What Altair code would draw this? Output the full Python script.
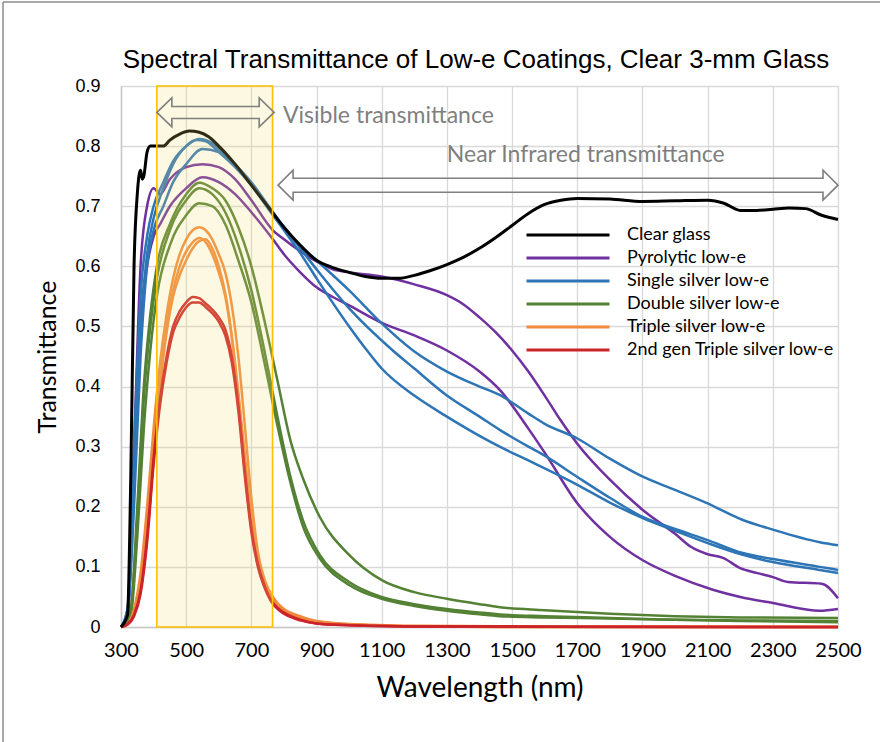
import altair as alt
import pandas as pd

TITLE = "Spectral Transmittance of Low-e Coatings, Clear 3-mm Glass"
X_TITLE = "Wavelength (nm)"
Y_TITLE = "Transmittance"
CATEGORIES = ["Clear glass", "Pyrolytic low-e", "Single silver low-e",
              "Double silver low-e", "Triple silver low-e", "2nd gen Triple silver low-e"]
COLORS = ["#000000", "#7030A0", "#2E75B6", "#548235", "#F08A3C", "#CC2229"]
X_TICKS = [300, 500, 700, 900, 1100, 1300, 1500, 1700, 1900, 2100, 2300, 2500]
Y_TICKS = [0.0, 0.1, 0.2, 0.3, 0.4, 0.5, 0.6, 0.7, 0.8, 0.9]

# ---- Clear glass ----
CLEAR_WL = [300, 320, 330, 340, 350, 360, 365, 370, 380, 390, 410, 430, 450, 480, 510, 540, 570, 600, 650, 700,
            750, 800, 850, 900, 950, 1000, 1050, 1100, 1150, 1200, 1250, 1300, 1350, 1400, 1450, 1500, 1550, 1600,
            1650, 1700, 1800, 1900, 2000, 2100, 2150, 2200, 2250, 2300, 2350, 2400, 2450, 2500]
CLEAR_T = [0.0, 0.02, 0.25, 0.60, 0.72, 0.76, 0.745, 0.75, 0.79, 0.80, 0.80, 0.80, 0.81, 0.82, 0.825, 0.823, 0.815,
           0.80, 0.77, 0.735, 0.70, 0.665, 0.635, 0.61, 0.598, 0.59, 0.583, 0.58, 0.58, 0.585, 0.593, 0.603, 0.615,
           0.63, 0.648, 0.668, 0.688, 0.703, 0.71, 0.713, 0.712, 0.708, 0.709, 0.71, 0.705, 0.693, 0.693, 0.695,
           0.697, 0.696, 0.685, 0.678]

# ---- Pyrolytic low-e ----
PYRO1_WL = [300, 320, 340, 360, 380, 400, 420, 450, 500, 550, 600, 650, 700, 766, 800, 850, 900, 950, 1000, 1100,
            1200, 1300, 1350, 1400, 1450, 1500, 1550, 1600, 1650, 1700, 1800, 1900, 2000, 2050, 2100, 2147, 2200,
            2250, 2300, 2346, 2450, 2500]
PYRO1_T = [0.0, 0.02, 0.30, 0.60, 0.70, 0.73, 0.72, 0.745, 0.765, 0.77, 0.765, 0.745, 0.71, 0.66, 0.645, 0.625,
           0.608, 0.595, 0.59, 0.583, 0.57, 0.552, 0.537, 0.515, 0.49, 0.46, 0.425, 0.385, 0.343, 0.305, 0.245,
           0.195, 0.155, 0.133, 0.121, 0.115, 0.098, 0.09, 0.083, 0.075, 0.072, 0.048]
PYRO2_WL = [300, 320, 340, 360, 380, 400, 420, 450, 500, 550, 600, 650, 700, 766, 800, 850, 900, 950, 1000, 1104,
            1200, 1300, 1400, 1463, 1550, 1600, 1700, 1800, 1901, 2000, 2116, 2200, 2300, 2444, 2500]
PYRO2_T = [0.0, 0.02, 0.25, 0.50, 0.60, 0.65, 0.67, 0.70, 0.73, 0.748, 0.74, 0.72, 0.69, 0.645, 0.62, 0.59, 0.565,
           0.549, 0.535, 0.505, 0.485, 0.46, 0.425, 0.394, 0.33, 0.29, 0.206, 0.15, 0.111, 0.085, 0.062, 0.05,
           0.04, 0.027, 0.03]

# ---- Single silver low-e ----
SS1_WL = [300, 320, 340, 360, 380, 400, 430, 460, 500, 530, 560, 600, 650, 700, 766, 800, 850, 900, 1000, 1100,
          1196, 1300, 1400, 1462, 1550, 1600, 1699, 1800, 1901, 2000, 2098, 2208, 2300, 2444, 2500]
SS1_T = [0.0, 0.03, 0.25, 0.50, 0.62, 0.68, 0.73, 0.77, 0.80, 0.81, 0.808, 0.79, 0.765, 0.735, 0.69, 0.665, 0.635,
         0.61, 0.56, 0.505, 0.46, 0.425, 0.40, 0.386, 0.355, 0.338, 0.314, 0.28, 0.25, 0.228, 0.206, 0.178, 0.162,
         0.141, 0.136]
SS2_WL = [300, 320, 340, 360, 380, 400, 430, 460, 500, 540, 580, 620, 700, 766, 800, 850, 900, 1000, 1134, 1200,
          1300, 1400, 1462, 1550, 1600, 1699, 1800, 1901, 2000, 2098, 2208, 2300, 2444, 2500]
SS2_T = [0.0, 0.03, 0.30, 0.55, 0.65, 0.70, 0.74, 0.775, 0.80, 0.812, 0.805, 0.785, 0.74, 0.69, 0.665, 0.63, 0.595,
         0.53, 0.46, 0.43, 0.385, 0.35, 0.328, 0.30, 0.285, 0.25, 0.215, 0.183, 0.163, 0.145, 0.123, 0.113, 0.10,
         0.095]
SS3_WL = [300, 320, 340, 360, 380, 400, 430, 460, 500, 550, 600, 650, 700, 766, 800, 850, 900, 1000, 1055, 1100,
          1200, 1300, 1400, 1462, 1550, 1600, 1699, 1800, 1901, 2000, 2098, 2208, 2300, 2444, 2500]
SS3_T = [0.0, 0.02, 0.20, 0.45, 0.60, 0.66, 0.70, 0.74, 0.77, 0.795, 0.79, 0.77, 0.735, 0.685, 0.66, 0.622, 0.58,
         0.50, 0.46, 0.43, 0.385, 0.35, 0.318, 0.30, 0.277, 0.264, 0.237, 0.207, 0.181, 0.16, 0.14, 0.12, 0.108,
         0.095, 0.09]

# ---- Double silver low-e ----
DS_WL = [300, 330, 350, 370, 390, 410, 450, 500, 540, 580, 620, 660, 700, 740, 780, 820, 860, 910, 1000, 1100,
         1200, 1300, 1400, 1462, 1600, 1800, 2000, 2200, 2500]
DS1_T = [0.0, 0.03, 0.20, 0.40, 0.52, 0.60, 0.67, 0.72, 0.739, 0.73, 0.71, 0.665, 0.60, 0.51, 0.41, 0.31, 0.245,
         0.183, 0.12, 0.078, 0.058, 0.047, 0.038, 0.033, 0.028, 0.022, 0.018, 0.016, 0.015]
DS2_T = [0.0, 0.03, 0.18, 0.38, 0.50, 0.58, 0.66, 0.71, 0.73, 0.72, 0.69, 0.635, 0.56, 0.46, 0.35, 0.25, 0.175,
         0.12, 0.075, 0.05, 0.038, 0.03, 0.024, 0.021, 0.018, 0.015, 0.012, 0.011, 0.01]
DS3_T = [0.0, 0.02, 0.15, 0.33, 0.46, 0.55, 0.635, 0.685, 0.705, 0.70, 0.67, 0.61, 0.54, 0.44, 0.335, 0.24, 0.165,
         0.114, 0.07, 0.047, 0.035, 0.027, 0.021, 0.018, 0.016, 0.014, 0.012, 0.01, 0.008]

# ---- Triple silver low-e ----
TS_WL = [300, 320, 340, 360, 380, 400, 420, 440, 460, 480, 500, 520, 540, 560, 580, 600, 620, 640, 660, 680, 700,
         720, 740, 760, 780, 800, 850, 900, 1000, 1200, 1500, 2500]
TS1_T = [0.0, 0.005, 0.03, 0.09, 0.20, 0.33, 0.44, 0.52, 0.58, 0.62, 0.645, 0.66, 0.665, 0.66, 0.645, 0.62, 0.59,
         0.535, 0.45, 0.335, 0.215, 0.125, 0.08, 0.055, 0.04, 0.03, 0.018, 0.01, 0.005, 0.002, 0.001, 0.0]
TS2_T = [0.0, 0.004, 0.025, 0.08, 0.18, 0.30, 0.41, 0.50, 0.56, 0.60, 0.625, 0.64, 0.647, 0.64, 0.62, 0.59, 0.55,
         0.48, 0.385, 0.28, 0.18, 0.105, 0.068, 0.047, 0.034, 0.026, 0.015, 0.009, 0.004, 0.001, 0.0, 0.0]
TS3_T = [0.0, 0.004, 0.022, 0.07, 0.16, 0.28, 0.40, 0.49, 0.55, 0.585, 0.61, 0.63, 0.642, 0.645, 0.63, 0.60, 0.555,
         0.485, 0.39, 0.285, 0.185, 0.11, 0.07, 0.048, 0.035, 0.027, 0.016, 0.009, 0.004, 0.001, 0.0, 0.0]

# ---- 2nd gen Triple silver low-e ----
TS2G_WL = [300, 320, 340, 360, 380, 400, 420, 440, 460, 480, 500, 520, 540, 560, 580, 600, 620, 640, 660, 680, 700,
           720, 740, 760, 780, 800, 850, 900, 1000, 1200, 2500]
TS2G1_T = [0.0, 0.005, 0.02, 0.06, 0.15, 0.28, 0.38, 0.45, 0.50, 0.525, 0.54, 0.549, 0.547, 0.538, 0.528, 0.515,
           0.495, 0.45, 0.37, 0.26, 0.165, 0.105, 0.07, 0.045, 0.032, 0.024, 0.012, 0.006, 0.003, 0.001, 0.0]
TS2G2_T = [0.0, 0.004, 0.018, 0.055, 0.14, 0.27, 0.37, 0.44, 0.49, 0.515, 0.532, 0.54, 0.54, 0.532, 0.522, 0.508,
           0.485, 0.44, 0.36, 0.25, 0.158, 0.10, 0.066, 0.043, 0.03, 0.022, 0.011, 0.006, 0.003, 0.001, 0.0]

# ---- annotations ----
VISIBLE_BAND = [410, 765]          # nm
Y_MAX = 0.9
VIS_ARROW = [410, 770, 0.856]      # x start, x end (nm), y
NIR_ARROW = [782, 2500, 0.735]
VIS_TEXT = ["Visible transmittance", 797, 0.85]
NIR_TEXT = ["Near Infrared transmittance", 1726, 0.785]

CURVES = [
    ("Pyrolytic low-e", "p1", PYRO1_WL, PYRO1_T),
    ("Pyrolytic low-e", "p2", PYRO2_WL, PYRO2_T),
    ("Single silver low-e", "s1", SS1_WL, SS1_T),
    ("Single silver low-e", "s2", SS2_WL, SS2_T),
    ("Single silver low-e", "s3", SS3_WL, SS3_T),
    ("Double silver low-e", "d1", DS_WL, DS1_T),
    ("Double silver low-e", "d2", DS_WL, DS2_T),
    ("Double silver low-e", "d3", DS_WL, DS3_T),
    ("Triple silver low-e", "t1", TS_WL, TS1_T),
    ("Triple silver low-e", "t2", TS_WL, TS2_T),
    ("Triple silver low-e", "t3", TS_WL, TS3_T),
    ("2nd gen Triple silver low-e", "g1", TS2G_WL, TS2G1_T),
    ("2nd gen Triple silver low-e", "g2", TS2G_WL, TS2G2_T),
]

rows = []
for cat, cid, wl, tt in CURVES:
    assert len(wl) == len(tt), cid
    for w, t in zip(wl, tt):
        rows.append({"category": cat, "curve": cid, "wl": w, "t": t})
df = pd.DataFrame(rows)
assert len(CLEAR_WL) == len(CLEAR_T)
df_clear = pd.DataFrame({"category": "Clear glass", "curve": "c", "wl": CLEAR_WL, "t": CLEAR_T})

PLOT_W, PLOT_H = 717, 541
FONT_TXT = "Lato"
GRAY = "#7F7F7F"

x_enc = alt.X("wl:Q", scale=alt.Scale(domain=[X_TICKS[0], X_TICKS[-1]], nice=False, zero=False),
              axis=alt.Axis(values=X_TICKS, title=X_TITLE, format="d", labelFlush=False))
y_enc = alt.Y("t:Q", scale=alt.Scale(domain=[0, Y_MAX], nice=False),
              axis=alt.Axis(values=Y_TICKS, title=Y_TITLE, labelFlush=False,
                            labelExpr="datum.value == 0 ? '0' : format(datum.value, '.1f')"))
color_enc = alt.Color("category:N", scale=alt.Scale(domain=CATEGORIES, range=COLORS),
                      legend=alt.Legend(title=None, orient="none", legendX=404, legendY=140,
                                        direction="vertical", symbolType="stroke", symbolSize=6889,
                                        symbolStrokeWidth=3, labelFont=FONT_TXT, labelFontSize=18,
                                        labelColor="#000000", labelOffset=16, clipHeight=18,
                                        rowPadding=5, padding=0, labelLimit=400))

lines = alt.Chart(df).mark_line(strokeWidth=2.5, interpolate="monotone").encode(
    x=x_enc, y=y_enc, color=color_enc, detail="curve:N")
clear = alt.Chart(df_clear).mark_line(strokeWidth=3, interpolate="monotone").encode(
    x=x_enc, y=y_enc, color=color_enc, detail="curve:N")

band_df = pd.DataFrame({"x": [VISIBLE_BAND[0]], "x2": [VISIBLE_BAND[1]], "y": [0.0], "y2": [Y_MAX]})
band = alt.Chart(band_df).mark_rect(fill="#F5DC6E", fillOpacity=0.2, stroke="#FFC000", strokeWidth=1.6).encode(
    x="x:Q", x2="x2:Q", y="y:Q", y2="y2:Q")

px_per_nm = PLOT_W / (X_TICKS[-1] - X_TICKS[0])


def arrow_shape(width_px, head_len, head_half, body_half):
    r = width_px / 2.0
    hl, hh, bh = head_len / r, head_half / r, body_half / r
    a = 1 - hl
    return (f"M-1,0L{-a},{-hh}L{-a},{-bh}L{a},{-bh}L{a},{-hh}L1,0"
            f"L{a},{hh}L{a},{bh}L{-a},{bh}L{-a},{hh}Z")


def arrow_layer(spec, head_len, head_half, body_half):
    x0, x1, yv = spec
    wpx = (x1 - x0) * px_per_nm
    d = pd.DataFrame({"x": [(x0 + x1) / 2.0], "y": [yv]})
    return alt.Chart(d).mark_point(shape=arrow_shape(wpx, head_len, head_half, body_half), size=wpx * wpx,
                                   filled=False, color=GRAY, strokeWidth=1.6, opacity=1).encode(
        x="x:Q", y="y:Q")


vis_arrow = arrow_layer(VIS_ARROW, 15, 14.5, 6)
nir_arrow = arrow_layer(NIR_ARROW, 15, 15, 7)

vis_text = alt.Chart(pd.DataFrame({"x": [VIS_TEXT[1]], "y": [VIS_TEXT[2]], "s": [VIS_TEXT[0]]})).mark_text(
    align="left", baseline="middle", font=FONT_TXT, fontSize=23, color=GRAY).encode(x="x:Q", y="y:Q", text="s:N")
nir_text = alt.Chart(pd.DataFrame({"x": [NIR_TEXT[1]], "y": [NIR_TEXT[2]], "s": [NIR_TEXT[0]]})).mark_text(
    align="center", baseline="middle", font=FONT_TXT, fontSize=23, color=GRAY).encode(x="x:Q", y="y:Q", text="s:N")

title_mark = alt.Chart(pd.DataFrame({"s": [TITLE]})).mark_text(
    align="center", baseline="middle", font="Liberation Sans", fontSize=26, color="#000000").encode(
    text="s:N", x=alt.value(355), y=alt.value(-26))

frame_df = pd.DataFrame({"a": [0]})
frame_v = alt.Chart(frame_df).mark_rule(color="#8C8C8C", strokeWidth=1.5).encode(
    x=alt.value(-118), y=alt.value(-84), y2=alt.value(700))
frame_h = alt.Chart(frame_df).mark_rule(color="#8C8C8C", strokeWidth=1.5).encode(
    y=alt.value(-84), x=alt.value(-118), x2=alt.value(800))

chart = alt.layer(lines, clear, band, vis_arrow, nir_arrow, vis_text, nir_text, title_mark, frame_v, frame_h).properties(
    width=PLOT_W, height=PLOT_H,
    autosize=alt.AutoSizeParams(type="none"),
    padding={"left": 121, "top": 86, "right": 42, "bottom": 115},
    background="white",
).configure_view(stroke=None).configure_axis(
    grid=True, gridColor="#D9D9D9", gridWidth=1.3, ticks=False, tickSize=0,
    domainColor="#C8C8C8", domainWidth=1.5,
    titleFontWeight="normal", titleColor="#000000", labelColor="#000000",
).configure_axisX(
    labelFont=FONT_TXT, labelFontSize=20, labelPadding=13, labelAngle=0,
    titleFont=FONT_TXT, titleFontSize=28, titlePadding=14,
).configure_axisY(
    labelFont="Liberation Sans", labelFontSize=18, labelPadding=21,
    titleFont=FONT_TXT, titleFontSize=25, titlePadding=14,
)

chart.save("out.html", embed_options={"renderer": "svg", "actions": False})
